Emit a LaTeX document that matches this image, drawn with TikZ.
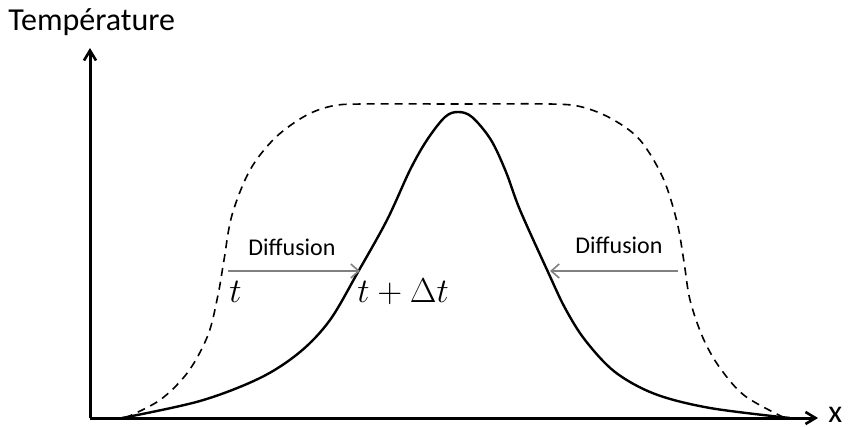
\documentclass[tikz,border=0pt]{standalone}
\usepackage{fontspec}
\setmainfont{Carlito}
\usetikzlibrary{arrows.meta, positioning}
\definecolor{arrowgray}{RGB}{128,128,128}
\tikzset{
  axis/.style={line width=1.5pt, -{Straight Barb[length=5pt, width=6pt, line width=1.3pt]}},
  profil/.style={line width=1.2pt},
  profildash/.style={line width=0.8pt, dash pattern=on 4pt off 3pt},
  diffarrow/.style={line width=0.9pt, color=arrowgray, -{Straight Barb[length=4pt, width=7pt, line width=0.8pt]}},
  axislabel/.style={font=\fontsize{16}{19}\selectfont, inner sep=0pt},
  difflabel/.style={font=\fontsize{12}{14}\selectfont, inner sep=0pt},
  timelabel/.style={font=\fontsize{16}{19}\selectfont, inner sep=0pt}
}
\begin{document}
\begin{tikzpicture}[x=0.5pt, y=-0.5pt]
  \useasboundingbox (0,0) rectangle (850,427);

  % axes
  \coordinate (origin) at (90,418);
  \coordinate (ytip) at (90,48);
  \coordinate (xtip) at (818,418);
  \draw[axis] (origin) -- (ytip);
  \draw[axis] (origin) -- (xtip);
  \node[axislabel, anchor=base west] (temp) at (8,31) {Température};
  \node[axislabel, anchor=base west] (xlab) at (828,422) {x};

  % profile at t (dashed)
  \draw[profildash] plot[smooth, tension=0.55] coordinates {
    (125,418) (160,400) (188,372) (208,335) (218,295) (224,260) (232,215)
    (250,170) (275,138) (305,116) (332,106) (362,104) (455,104) (550,104)
    (582,107) (612,119) (640,140) (663,178) (677,222) (684,262) (690,300)
    (703,338) (720,368) (745,396) (785,418)};

  % profile at t + dt (solid)
  \draw[profil] plot[smooth, tension=0.55] coordinates {
    (122,418) (200,401) (260,378) (300,352) (330,320) (358,272)
    (387,220) (410,170) (427,140) (445,117) (458,112) (472,117)
    (491,140) (506,172) (520,210) (548,272) (565,308) (585,340)
    (615,372) (655,394) (710,408) (790,418)};

  % diffusion arrows
  \coordinate (dlstart) at (228,271);
  \coordinate (dlend) at (360,271);
  \coordinate (drstart) at (678,271);
  \coordinate (drend) at (550,271);
  \draw[diffarrow] (dlstart) -- (dlend);
  \draw[diffarrow] (drstart) -- (drend);
  \node[difflabel, anchor=base west] (diffl) at (248,255) {Diffusion};
  \node[difflabel, anchor=base west] (diffr) at (575,253) {Diffusion};

  % times
  \node[timelabel, anchor=base west] (tlab) at (229,302) {$t$};
  \node[timelabel, anchor=base west] (tdtlab) at (357,302) {$t+\Delta t$};
\end{tikzpicture}
\end{document}
